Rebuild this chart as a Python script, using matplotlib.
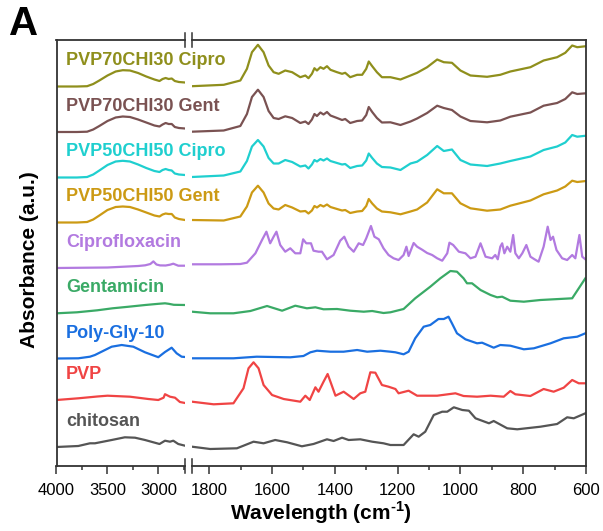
import numpy as np
import matplotlib.pyplot as plt

plt.rcParams['font.family'] = ['Liberation Sans', 'DejaVu Sans']
plt.rcParams['mathtext.fontset'] = 'custom'
plt.rcParams['mathtext.rm'] = 'Liberation Sans:bold'
plt.rcParams['mathtext.bf'] = 'Liberation Sans:bold'

# trace names, colours and vertical offsets (bottom to top)
names = ["chitosan", "PVP", "Poly-Gly-10", "Gentamicin", "Ciprofloxacin",
         "PVP50CHI50 Gent", "PVP50CHI50 Cipro", "PVP70CHI30 Gent", "PVP70CHI30 Cipro"]
colors = ["#555555", "#f04444", "#1a6fe0", "#3aaa66", "#b27ae0",
          "#cc9a14", "#1fcfcf", "#7a5252", "#8f8f1c"]
offsets = [19, 66, 107.5, 152.7, 198, 243.5, 288.5, 334, 379.5]

# ---- 4000-2740 cm-1 window ----
chitosan_hi_wn = [4000, 3786, 3672, 3623, 3459, 3330, 3230, 3132, 2990, 2936, 2887, 2855, 2806, 2740]
chitosan_hi = [0, 1, 3.7, 3.7, 7, 9.7, 9.3, 7, 3, 6.3, 5.3, 6.3, 3, 1.3]
pvp_hi_wn = [4000, 3786, 3600, 3500, 3280, 3100, 3002, 2950, 2936, 2887, 2838, 2790, 2740]
pvp_hi = [0, 1.7, 3.5, 4.3, 3.3, 1, 0, 2.3, 5.8, 3.3, 2.3, -2, -3]
pgly_hi_wn = [4000, 3786, 3672, 3623, 3459, 3361, 3247, 3132, 3002, 2936, 2871, 2822, 2773, 2740]
pgly_hi = [0, 0.2, 1.8, 3.5, 11.8, 13.5, 11.8, 6.2, 1.3, 6.5, 10.8, 5.2, 1.8, 1.5]
gent_hi_wn = [4000, 3800, 3600, 3450, 3300, 3130, 3000, 2936, 2900, 2850, 2740]
gent_hi = [0, 1, 3, 5, 6.5, 8.3, 9.5, 10, 9.5, 8.5, 8.3]
cipro_hi_wn = [4000, 3500, 3200, 3130, 3080, 3050, 3020, 2985, 2930, 2887, 2855, 2806, 2740]
cipro_hi = [0, 0.5, 2, 2.7, 4, 6.6, 3.5, 2.6, 2.5, 3.3, 4.3, 2.3, 2.3]

mix_hi_wn = [4000, 3800, 3700, 3640, 3580, 3500, 3420, 3350, 3280, 3200,
             3120, 3040, 2990, 2960, 2930, 2900, 2870, 2840, 2800, 2740]
p50_gent_hi = [0, 0, 0.5, 3, 7, 12.5, 15.5, 16, 15.5, 13, 10, 7, 6, 8, 9, 8.5, 8.5, 5, 3.5, 2.5]
p50_cipro_hi = [0, 0, 0.5, 3, 7, 12.5, 16, 16.7, 16, 13, 9.5, 6.5, 5.5, 7.5, 8.5, 7.5, 7, 4, 3, 2.5]
p70_gent_hi = [0, 0, 0.3, 2.5, 6, 11, 14.5, 15.5, 15, 12.5, 9.5, 6.5, 5.5, 7.5, 9, 8, 8, 5, 4, 3.5]
p70_cipro_hi = [0, 0, 0.3, 2.5, 6, 11, 15, 16.3, 16, 13.5, 10, 7, 5.5, 7.5, 8.5, 7.5, 8, 5.5, 4.5, 4]

# ---- 1855-600 cm-1 window ----
chitosan_lo_wn = [1855, 1797, 1712, 1691, 1659, 1627, 1590, 1552, 1505, 1468, 1425, 1404, 1377,
                  1356, 1319, 1281, 1245, 1223, 1181, 1149, 1133, 1112, 1085, 1058, 1042, 1021,
                  994, 973, 952, 909, 894, 851, 819, 745, 692, 660, 639, 602]
chitosan_lo = [0.3, -2, -1.3, 1.3, 5.3, 3.7, 7, 4.7, 0.7, 3, 7.7, 6, 9.3,
               7, 7.7, 5.3, 3.7, 2, 2, 12.7, 10.3, 15.3, 32, 35.3, 35.3, 39.7,
               37, 36.3, 28.7, 23.7, 26, 18.7, 17.7, 20.3, 23, 29.7, 28.7, 33.7]
pvp_lo_wn = [1855, 1786, 1723, 1691, 1675, 1659, 1643, 1627, 1600, 1563, 1510, 1494, 1480,
             1462, 1452, 1436, 1423, 1414, 1398, 1372, 1340, 1319, 1303, 1287, 1271, 1250,
             1229, 1207, 1197, 1165, 1138, 1074, 1016, 990, 947, 904, 862, 841, 825, 777,
             735, 703, 671, 644, 623, 602]
pvp_lo = [-1.7, -4.3, -3.3, 11.7, 31.7, 37.7, 31.7, 15, 5, 1, -1.7, 4.3, 0,
          12.7, 8.3, 18.3, 26, 18.3, 4.3, 8.3, 1, 6.7, 8.3, 27.7, 27.3, 15,
          13.3, 11, 6.7, 9.3, 4.3, 4.3, 6.7, 4, 3.3, 4.3, 3.3, 9, 5.7, 4,
          11, 8.3, 12.3, 20, 16.7, 16.7]
pgly_lo_wn = [1855, 1723, 1649, 1542, 1500, 1478, 1457, 1414, 1372, 1329, 1297, 1255, 1223,
              1207, 1181, 1165, 1144, 1117, 1096, 1070, 1053, 1038, 1027, 1011, 984, 947,
              931, 894, 873, 841, 798, 766, 713, 671, 628, 602]
pgly_lo = [0.2, 0.2, 1.8, 1.2, 2.5, 6.2, 7.8, 6.8, 6.8, 8.5, 6.8, 7.8, 6.8,
           6.2, 4.2, 6.8, 20.2, 31.8, 33.5, 39.5, 39.5, 41.8, 35.2, 25.2, 19.2, 15.2,
           15.8, 10.8, 13.5, 12.8, 9.2, 10.2, 15.2, 20.2, 21.8, 25.2]
gent_lo_wn = [1855, 1797, 1723, 1669, 1616, 1568, 1526, 1489, 1462, 1436, 1393, 1351, 1308,
              1281, 1245, 1223, 1181, 1144, 1096, 1064, 1032, 1011, 990, 979, 963, 936,
              904, 883, 867, 841, 798, 745, 644, 623, 602]
gent_lo = [1.6, 0, 0, 2.3, 7.3, 2.6, 7.6, 5, 6, 4, 4.3, 2.6, 1.6,
           2.3, 0.3, 1, 4.3, 15, 26.6, 35, 42.3, 41.6, 35, 30, 30, 23.3,
           18.3, 16, 16.6, 12.6, 11.6, 13.3, 15, 25, 35]
cipro_lo_wn = [1854, 1765, 1701, 1680, 1653, 1632, 1618, 1606, 1595, 1586, 1574, 1558, 1542,
               1526, 1510, 1501, 1491, 1476, 1468, 1452, 1441, 1425, 1404, 1383, 1370, 1356,
               1340, 1324, 1310, 1300, 1285, 1274, 1260, 1245, 1229, 1213, 1197, 1181, 1172,
               1165, 1149, 1138, 1122, 1106, 1090, 1074, 1058, 1042, 1035, 1023, 1005, 984,
               968, 952, 936, 920, 899, 889, 881, 873, 867, 860, 851, 841, 832, 825, 814,
               803, 790, 777, 764, 751, 735, 722, 713, 705, 694, 676, 660, 644, 634, 621,
               612, 602]
cipro_lo = [3.7, 3.7, 4, 5.3, 14.7, 28, 36.3, 24.7, 31.3, 36.3, 23, 16.3, 19.7,
            14.7, 14.7, 28.7, 24.7, 24.7, 17.3, 16.3, 16.3, 8.7, 13, 27.3, 31.3, 21.3,
            16.3, 24.7, 23, 29.7, 42, 31.3, 28.7, 19.7, 13, 9.7, 8, 13, 21.3,
            12, 25, 21.3, 18.3, 15, 13, 9.7, 7.3, 14.7, 25.3, 23, 16.3, 14.7,
            9.7, 11.3, 24.7, 11.3, 9.7, 13, 8.7, 21.3, 24.7, 14.7, 21.3, 16.3, 33, 14.7, 9.7,
            14.7, 23, 11.3, 8.7, 6.3, 21.3, 41.3, 28, 31.3, 18, 9.7, 8, 13, 9.7, 33,
            11.3, 8.7]

mix_lo_wn = [1855, 1754, 1701, 1680, 1664, 1645, 1627, 1611, 1595, 1579, 1558, 1536, 1510,
             1494, 1484, 1473, 1465, 1457, 1446, 1436, 1425, 1414, 1393, 1377, 1367, 1351,
             1329, 1313, 1300, 1292, 1281, 1266, 1250, 1223, 1191, 1159, 1138, 1106, 1074,
             1053, 1027, 1000, 968, 915, 873, 841, 777, 735, 692, 666, 644, 628, 600]
p50_gent_lo = [2.5, 2, 6, 16, 30, 36.8, 30, 19, 14, 13, 17.5, 15, 11,
               11.5, 9, 12, 16.5, 15, 17.5, 16, 18, 15.5, 13.5, 12, 12.5, 9.5,
               11, 11.5, 16.5, 23.5, 19, 14, 11, 10.2, 8.2, 11, 13, 20, 33.2,
               29.2, 29.2, 19.2, 14.2, 11.8, 13, 16.8, 22, 28.2, 32, 36, 41.8, 40.5, 41.5]
p50_cipro_lo = [0.5, 2, 6, 16.5, 31, 37.5, 31, 19.5, 14, 14, 17.5, 15.5, 11,
                12, 9, 13, 17.5, 16, 18.5, 17, 19, 16.5, 14.5, 13, 13.5, 9.5,
                11.5, 12, 17, 24, 19.5, 14, 10.5, 10, 7.5, 14, 15.8, 22.5, 31.5,
                26.5, 28, 17.5, 13, 11.5, 14, 16.5, 21, 27.5, 31, 35, 42.5, 40.8, 41.8]
p70_gent_lo = [0.3, 1.5, 6, 18, 35, 42.3, 35, 21, 14, 13, 15.7, 14, 9,
               10.5, 8, 12.5, 18, 16, 19.5, 17.5, 20, 16.5, 14, 12, 13, 9,
               11, 11.5, 17, 25, 20, 14, 9.5, 9.7, 7, 10.5, 13.5, 19, 26.3,
               24, 22, 15.5, 11, 9.7, 11.5, 15.3, 19.5, 26.3, 29, 33, 39.7, 38, 38.7]
p70_cipro_lo = [0.3, 1.7, 6, 17.7, 34.3, 41.7, 34.3, 21, 14.3, 12.7, 16, 14.3, 9.3,
                11, 8.3, 12.7, 18.3, 16, 19.3, 17.7, 20.3, 16.7, 14.3, 12.7, 13.7, 9.3,
                11.7, 11.7, 17.7, 25, 20.3, 14.3, 9.3, 9.3, 7, 11, 13.7, 19.3, 27,
                24.3, 23.7, 16, 11, 9.7, 11.7, 15, 19.3, 26, 29.3, 33.7, 41, 39.3, 40.3]

spectra_hi = [(chitosan_hi_wn, chitosan_hi), (pvp_hi_wn, pvp_hi), (pgly_hi_wn, pgly_hi),
              (gent_hi_wn, gent_hi), (cipro_hi_wn, cipro_hi),
              (mix_hi_wn, p50_gent_hi), (mix_hi_wn, p50_cipro_hi),
              (mix_hi_wn, p70_gent_hi), (mix_hi_wn, p70_cipro_hi)]
spectra_lo = [(chitosan_lo_wn, chitosan_lo), (pvp_lo_wn, pvp_lo), (pgly_lo_wn, pgly_lo),
              (gent_lo_wn, gent_lo), (cipro_lo_wn, cipro_lo),
              (mix_lo_wn, p50_gent_lo), (mix_lo_wn, p50_cipro_lo),
              (mix_lo_wn, p70_gent_lo), (mix_lo_wn, p70_cipro_lo)]

fig = plt.figure(figsize=(6.03, 5.31), dpi=100)
ax2 = fig.add_axes([192 / 603, 65 / 531, 394 / 603, 426 / 531])
ax1 = fig.add_axes([56.5 / 603, 65 / 531, 128.5 / 603, 426 / 531])
ax1.patch.set_visible(False)

for i in range(len(names)):
    wn, a = spectra_hi[i]
    ax1.plot(wn, offsets[i] + np.array(a), color=colors[i], lw=1.6, solid_joinstyle='round')
    wn, a = spectra_lo[i]
    ax2.plot(wn, offsets[i] + np.array(a), color=colors[i], lw=1.6, solid_joinstyle='round')
    ax1.text(3905, offsets[i] + 21, names[i], color=colors[i], fontsize=13,
             fontweight='bold', va='baseline', ha='left', clip_on=False, zorder=5)

ax1.set_xlim(4000, 2740)
ax2.set_xlim(1855, 600)
for ax in (ax1, ax2):
    ax.set_ylim(0, 426)
    ax.set_yticks([])
    for s in ax.spines.values():
        s.set_linewidth(1.3)
        s.set_color('#333333')
    ax.tick_params(axis='x', which='both', direction='out', width=1.1,
                   color='#333333', labelsize=12, pad=7)
    ax.tick_params(axis='x', which='major', length=5.5)
    ax.tick_params(axis='x', which='minor', length=3)

ax1.set_xticks([4000, 3500, 3000])
ax1.set_xticks([3750, 3250, 2750], minor=True)
ax2.set_xticks([1800, 1600, 1400, 1200, 1000, 800, 600])
ax2.set_xticks([1700, 1500, 1300, 1100, 900, 700], minor=True)
ax1.spines['right'].set_visible(False)
ax2.spines['left'].set_visible(False)

# axis break marks
d = 0.016
kw = dict(color='#333333', lw=1.1, clip_on=False)
for y in (0, 1):
    ax1.plot([1, 1], [y - d, y + d], transform=ax1.transAxes, **kw)
    ax2.plot([0, 0], [y - d, y + d], transform=ax2.transAxes, **kw)

fig.text(321 / 603, 18 / 531, 'Wavelength (cm$^{\u2010 1}$)', ha='center', va='center',
         fontsize=15, fontweight='bold')
fig.text(30 / 603, 271 / 531, 'Absorbance (a.u.)', rotation=90, ha='center', va='center',
         fontsize=15, fontweight='bold')
fig.text(9 / 603, 496 / 531, 'A', fontsize=29, fontweight='bold', va='baseline')

fig.savefig('out.png', dpi=100)
